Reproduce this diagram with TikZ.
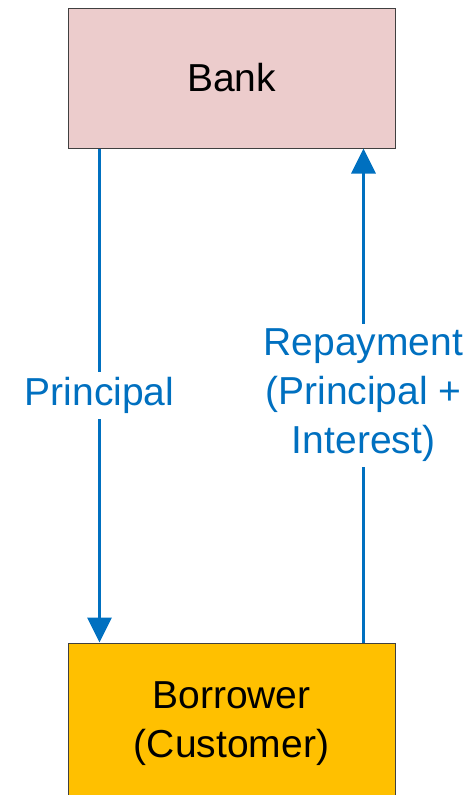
\documentclass[tikz,border=0pt]{standalone}
\usepackage{fontspec}
\setmainfont{Liberation Sans}
\usepackage{tikz}
\usetikzlibrary{arrows.meta, positioning}
\definecolor{flowblue}{RGB}{0,112,192}
\definecolor{bankpink}{RGB}{236,204,204}
\definecolor{borrowgold}{RGB}{255,192,0}
\definecolor{edgegray}{RGB}{64,64,64}

\begin{document}
\begin{tikzpicture}[x=1pt, y=-1pt,
    party/.style={draw=edgegray, line width=1pt, minimum width=327pt, align=center,
        font=\fontsize{39}{49}\selectfont},
    flow/.style={flowblue, line width=3.5pt, -{Triangle[width=24pt, length=25pt]}},
    lbl/.style={fill=white, text=flowblue, align=center, inner xsep=2pt, inner ysep=5pt,
        font=\fontsize{39}{49}\selectfont}]
    \useasboundingbox (0,0) rectangle (472,795);

    % Parties
    \node[party, fill=bankpink, minimum height=140pt] at (231.5,78) (bank) {Bank};
    \node[party, fill=borrowgold, minimum height=162pt] at (231.5,724) (borrower) {Borrower\\(Customer)};

    % Principal goes down
    \draw[flow] ([xshift=-132pt]bank.south) -- node[lbl] {Principal} ([xshift=-132pt]borrower.north);

    % Repayment goes up
    \draw[flow] ([xshift=132pt]borrower.north) -- node[lbl] {Repayment\\(Principal +\\Interest)} ([xshift=132pt]bank.south);
\end{tikzpicture}
\end{document}
